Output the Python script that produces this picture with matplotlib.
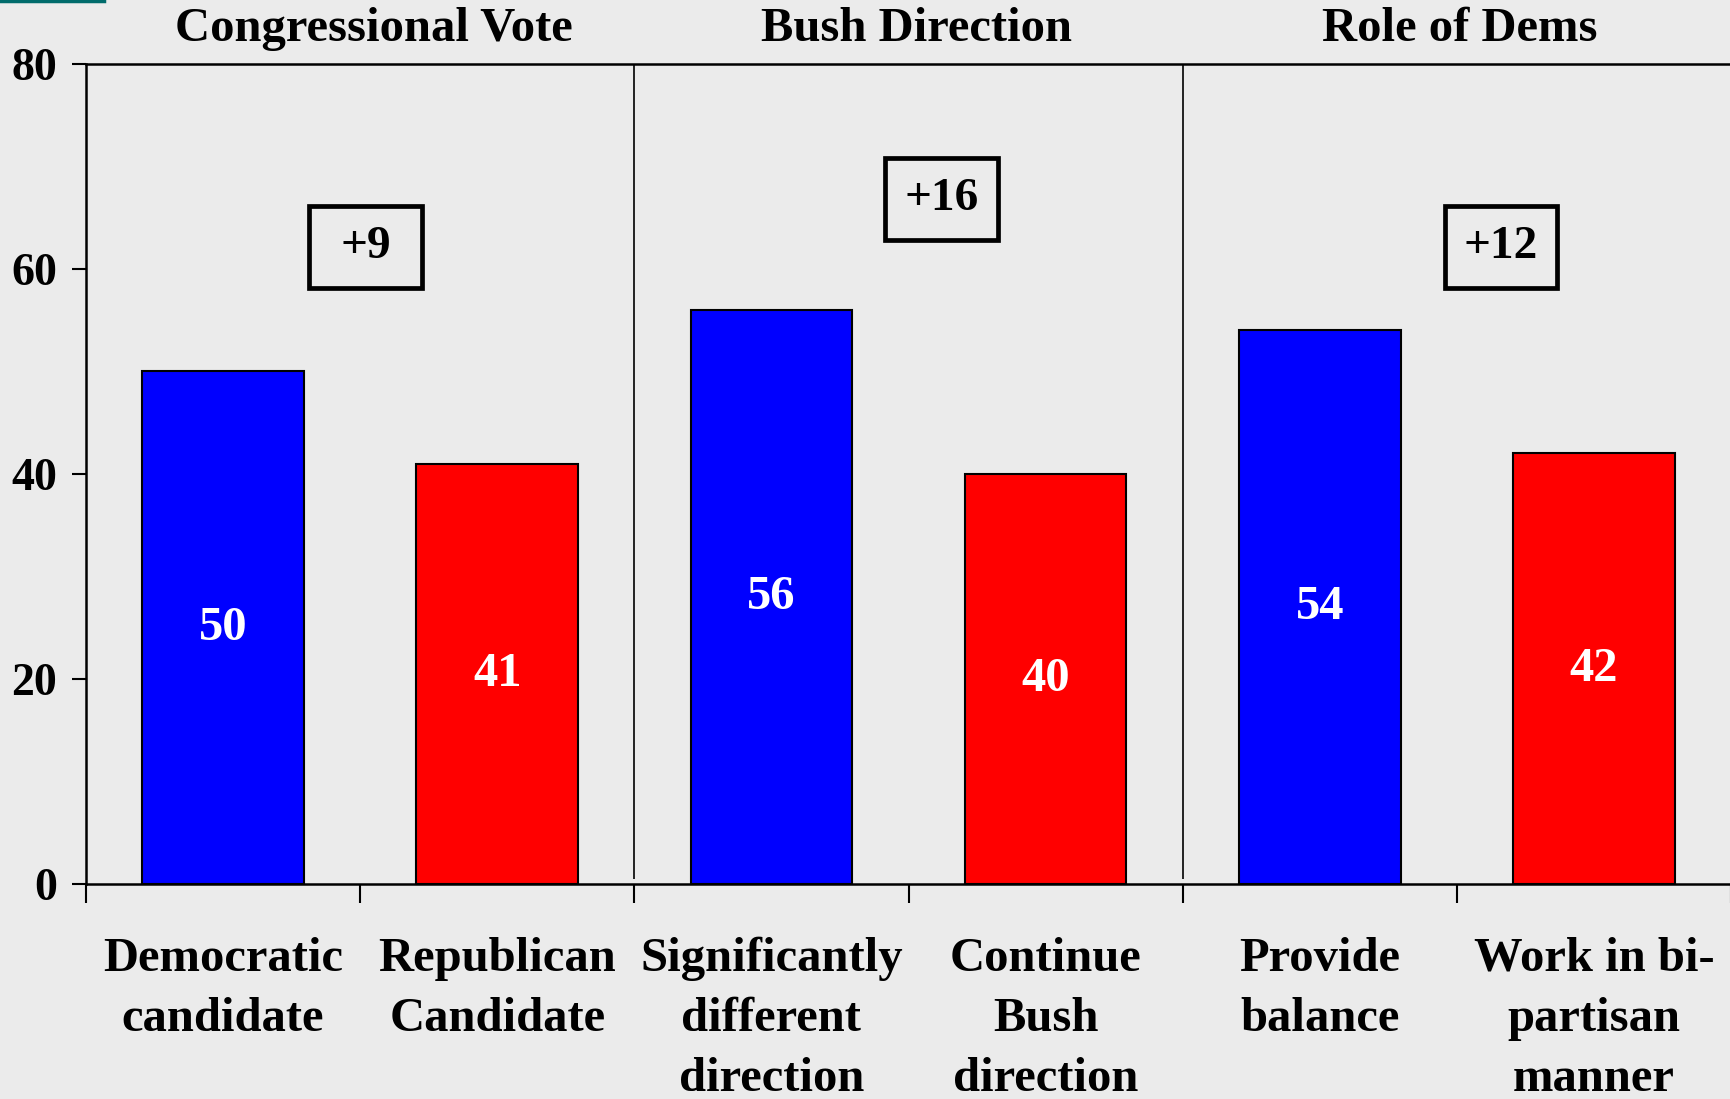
import matplotlib
matplotlib.use('Agg')
import matplotlib.pyplot as plt
from matplotlib.patches import Rectangle

plt.rcParams['font.family'] = ['Liberation Serif', 'DejaVu Serif']
plt.rcParams['font.weight'] = 'bold'

BG = "#EBEBEB"

categories = ["Democratic\ncandidate", "Republican\nCandidate",
              "Significantly\ndifferent\ndirection", "Continue\nBush\ndirection",
              "Provide\nbalance", "Work in bi-\npartisan\nmanner"]
values = [50, 41, 56, 40, 54, 42]
bar_colors = ["#0000FF", "#FF0000", "#0000FF", "#FF0000", "#0000FF", "#FF0000"]

panel_titles = ["Congressional Vote", "Bush Direction", "Role of Dems"]
title_x = [1.05, 3.03, 5.01]
margins = ["+9", "+16", "+12"]
# box centres in data units (x, y)
margin_pos = [(1.02, 62.1), (3.12, 66.8), (5.16, 62.1)]
BOX_W = 0.41
BOX_H = 8.0

fig = plt.figure(figsize=(17.31, 10.99), dpi=100, facecolor=BG)
ax = fig.add_axes([0.0497, 0.1956, 0.9503, 0.7462])
ax.set_facecolor(BG)

xs = [i + 0.5 for i in range(len(values))]
ax.bar(xs, values, width=0.59, color=bar_colors, edgecolor="black",
       linewidth=1.5, zorder=2)

for x, v in zip(xs, values):
    ax.text(x, v / 2, str(v), ha="center", va="center", color="white",
            fontsize=35, fontweight="bold", zorder=3)

# dividers between the three panels
ax.vlines([2, 4], 0.5, 80, color="black", linewidth=1.2, zorder=1)

for tx, t in zip(title_x, panel_titles):
    ax.text(tx, 81.3, t, ha="center", va="bottom",
            fontsize=35, fontweight="bold", clip_on=False)

for (mx, my), m in zip(margin_pos, margins):
    ax.add_patch(Rectangle((mx - BOX_W / 2, my - BOX_H / 2), BOX_W, BOX_H,
                           facecolor=BG, edgecolor="black", linewidth=3.4,
                           zorder=4))
    ax.text(mx, my, m, ha="center", va="center", fontsize=34,
            fontweight="bold", zorder=5)

ax.set_xlim(0, 6)
ax.set_ylim(0, 80)
ax.set_yticks([0, 20, 40, 60, 80])
ax.tick_params(axis="y", which="major", length=10, width=1.5, pad=11,
               labelsize=33, direction="out")
for lab in ax.get_yticklabels():
    lab.set_fontweight("bold")

ax.set_xticks(range(7))
ax.set_xticklabels([])
ax.set_xticks(xs, minor=True)
ax.set_xticklabels(categories, minor=True, fontsize=35, fontweight="bold",
                   linespacing=1.47)
ax.tick_params(axis="x", which="major", length=14, width=1.5, direction="out")
ax.tick_params(axis="x", which="minor", length=0, pad=38)

for side in ["left", "bottom", "top"]:
    ax.spines[side].set_linewidth(1.8)
ax.spines["right"].set_visible(False)

# small teal accent at top-left corner
fig.add_artist(plt.Line2D([0, 0.06], [0.9995, 0.9995], color="#006B6B",
                          linewidth=2.5, transform=fig.transFigure))

fig.savefig("out.png", dpi=100, facecolor=BG)
